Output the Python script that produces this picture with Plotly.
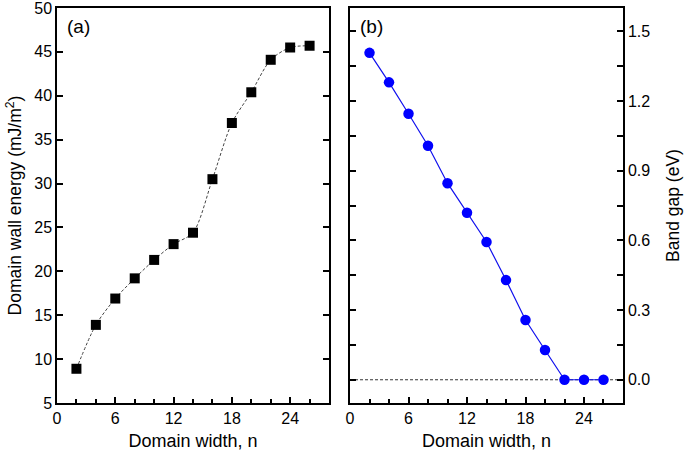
import plotly.graph_objects as go
from plotly.subplots import make_subplots

width_n = [2, 4, 6, 8, 10, 12, 14, 16, 18, 20, 22, 24, 26]
wall_energy = [8.9, 13.9, 16.9, 19.2, 21.3, 23.1, 24.4, 30.5, 36.9, 40.4, 44.1, 45.5, 45.7]
band_gap = [1.407, 1.28, 1.145, 1.007, 0.846, 0.719, 0.593, 0.429, 0.257, 0.128, 0.0, 0.0, 0.0]
x_ticks = [0, 6, 12, 18, 24]
energy_ticks = [5, 10, 15, 20, 25, 30, 35, 40, 45, 50]
gap_ticks = [0.0, 0.3, 0.6, 0.9, 1.2, 1.5]
gap_tick_text = ["0.0", "0.3", "0.6", "0.9", "1.2", "1.5"]

FONT = "Liberation Sans, Arial, sans-serif"

fig = make_subplots(rows=1, cols=2)

fig.add_trace(go.Scatter(
    x=width_n, y=wall_energy, mode="lines+markers",
    line=dict(color="#444444", width=1, dash="3px,2px", shape="spline", smoothing=0.8),
    marker=dict(symbol="square", size=10, color="black"),
    showlegend=False), row=1, col=1)

fig.add_trace(go.Scatter(
    x=[0, 28], y=[0, 0], mode="lines",
    line=dict(color="#333333", width=1, dash="3px,2px"),
    showlegend=False, hoverinfo="skip"), row=1, col=2)

fig.add_trace(go.Scatter(
    x=width_n, y=band_gap, mode="lines+markers",
    line=dict(color="#1010ee", width=1.2),
    marker=dict(symbol="circle", size=10.5, color="#0000ff"),
    showlegend=False), row=1, col=2)

axis_common = dict(
    showline=True, linecolor="black", linewidth=1.5,
    ticks="inside", ticklen=6, tickwidth=1.5, tickcolor="black",
    showgrid=False, zeroline=False, automargin=False, ticklabeloverflow="allow",
    tickfont=dict(family=FONT, size=16, color="black"),
)

fig.update_xaxes(mirror=True, title_font=dict(family=FONT, size=18, color="black"), **axis_common)
fig.update_yaxes(mirror="ticks", title_font=dict(family=FONT, size=17.5, color="black"), **axis_common)

minor_x = dict(dtick=2, ticks="inside", ticklen=4, tickwidth=1.5, tickcolor="black", showgrid=False)

fig.update_layout(
    xaxis=dict(domain=[0.0, 0.4806], range=[0, 28], tickvals=x_ticks, minor=minor_x,
               title=dict(text="Domain width, n", standoff=8)),
    yaxis=dict(range=[5, 50], tickvals=energy_ticks,
               title=dict(text="Domain wall energy (mJ/m<sup>2</sup>)", standoff=8)),
    xaxis2=dict(domain=[0.5177, 1.0], range=[0, 28], tickvals=x_ticks, minor=minor_x,
                title=dict(text="Domain width, n", standoff=8)),
    yaxis2=dict(range=[-0.1, 1.6], tickvals=gap_ticks, ticktext=gap_tick_text, side="right",
                minor=dict(dtick=0.15, tick0=0, ticks="inside", ticklen=6, tickwidth=1.5,
                           tickcolor="black", showgrid=False),
                title=dict(text="Band gap (eV)", standoff=17)),
    width=685, height=451,
    margin=dict(l=57, r=62, t=8, b=48),
    plot_bgcolor="white", paper_bgcolor="white",
    annotations=[
        dict(text="(a)", xref="x domain", yref="y domain", x=0.03, y=0.985, xanchor="left", yanchor="top",
             showarrow=False, font=dict(family=FONT, size=19, color="black")),
        dict(text="(b)", xref="x2 domain", yref="y2 domain", x=0.03, y=0.985, xanchor="left", yanchor="top",
             showarrow=False, font=dict(family=FONT, size=19, color="black")),
    ],
)

fig.write_html("out.html", config={"displayModeBar": False},
               post_script="document.body.style.margin='0';document.body.style.overflow='hidden';")
